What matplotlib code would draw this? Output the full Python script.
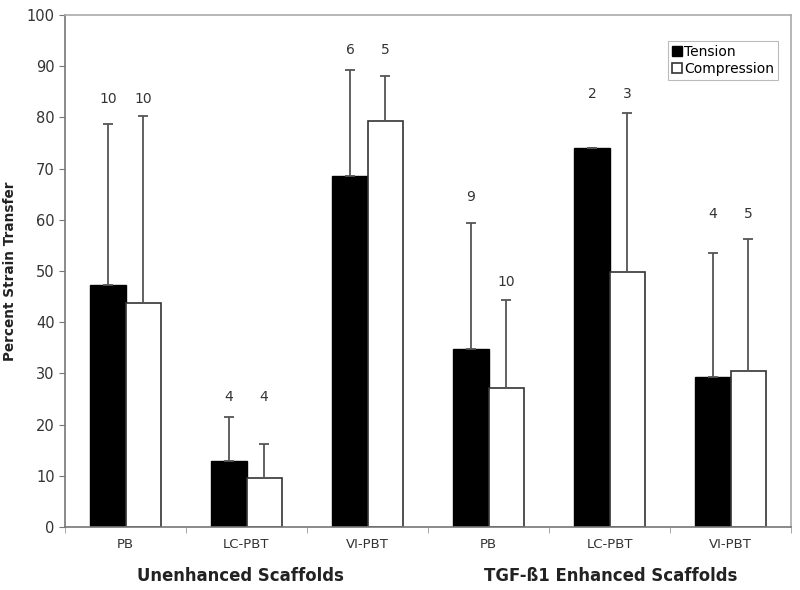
import matplotlib
matplotlib.use("Agg")
import matplotlib.pyplot as plt
import numpy as np

categories = ["PB", "LC-PBT", "VI-PBT", "PB", "LC-PBT", "VI-PBT"]
groups = ["Unenhanced Scaffolds", "TGF-ß1 Enhanced Scaffolds"]
tension = [47.3, 12.8, 68.5, 34.8, 74.0, 29.2]
tension_err = [31.5, 8.7, 20.7, 24.6, 0.0, 24.3]
compression = [43.7, 9.5, 79.3, 27.2, 49.8, 30.4]
compression_err = [36.5, 6.7, 8.7, 17.1, 31.0, 25.9]
n_tension = [10, 4, 6, 9, 2, 4]
n_compression = [10, 4, 5, 10, 3, 5]
n_label_y_tension = [83.5, 25.4, 93.2, 64.4, 84.5, 61.1]
n_label_y_compression = [83.5, 25.4, 93.2, 47.9, 84.5, 61.1]

fig = plt.figure(figsize=(8, 5.9), dpi=100)
ax = fig.add_axes([0.08125, 0.1068, 0.9075, 0.8678])

x = np.arange(len(categories))
w = 0.29
err_kw = dict(ecolor="#555555", elinewidth=1.3, capsize=3.5, capthick=1.3)
ax.bar(x - w / 2, tension, w, color="black", edgecolor="black", linewidth=1,
       label="Tension", yerr=[np.zeros(len(x)), tension_err], error_kw=err_kw, zorder=2)
ax.bar(x + w / 2, compression, w, color="white", edgecolor="#333333", linewidth=1.2,
       label="Compression", yerr=[np.zeros(len(x)), compression_err], error_kw=err_kw, zorder=2)

for i in range(len(x)):
    ax.text(x[i] - w / 2, n_label_y_tension[i], str(n_tension[i]), ha="center", va="center",
            fontsize=10, color="#333333")
    ax.text(x[i] + w / 2, n_label_y_compression[i], str(n_compression[i]), ha="center", va="center",
            fontsize=10, color="#333333")

ax.set_xlim(-0.5, len(x) - 0.5)
ax.set_ylim(0, 100)
ax.set_yticks(np.arange(0, 101, 10))
ax.set_xticks(x)
ax.set_xticklabels(categories, fontsize=9.5, color="#333333")
ax.set_xticks(np.arange(-0.5, len(x) + 0.5, 1), minor=True)
ax.tick_params(axis="x", which="major", length=0, pad=8)
ax.tick_params(axis="x", which="minor", length=4, color="#999999")
ax.tick_params(axis="y", labelsize=10.5, colors="#333333", length=4, color="#777777")
for s in ["top", "right"]:
    ax.spines[s].set_color("#aaaaaa")
    ax.spines[s].set_linewidth(1.2)
ax.spines["left"].set_color("#777777")
ax.spines["bottom"].set_color("#777777")
ax.spines["left"].set_linewidth(1.2)
ax.spines["bottom"].set_linewidth(1.2)

ax.set_ylabel("Percent Strain Transfer", fontsize=9.8, fontweight="bold", color="#222222", labelpad=7)

fig.text(240 / 800, 1 - 576 / 590, groups[0], ha="center", va="center", fontsize=11.9,
         fontweight="bold", color="#222222")
fig.text(611 / 800, 1 - 576 / 590, groups[1], ha="center", va="center", fontsize=11.9,
         fontweight="bold", color="#222222")

leg = ax.legend(loc="upper right", bbox_to_anchor=(0.982, 0.949), fontsize=10, frameon=True,
                fancybox=False, edgecolor="#aaaaaa", handlelength=0.7, handleheight=0.7,
                handletextpad=0.2, borderpad=0.25, labelspacing=0.25, borderaxespad=0)
leg.get_frame().set_linewidth(0.8)

fig.savefig("out.png", dpi=100)
